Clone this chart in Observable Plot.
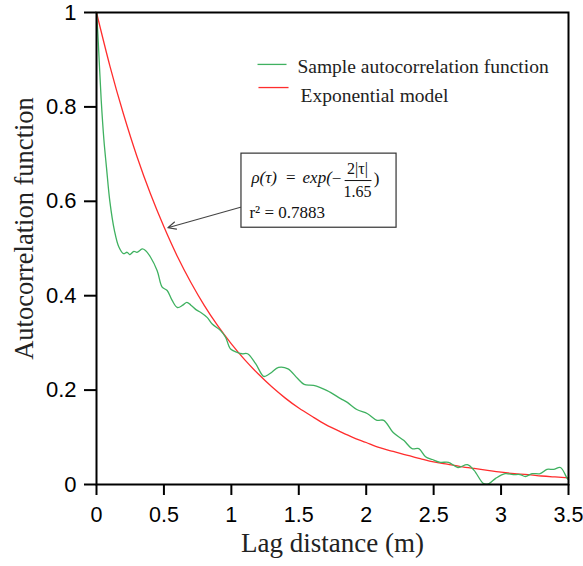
<!DOCTYPE html>
<html><head><meta charset="utf-8">
<script src="https://cdn.jsdelivr.net/npm/d3@7"></script>
<script src="https://cdn.jsdelivr.net/npm/@observablehq/plot@0.6"></script>
<style>body{margin:0;background:#fff}</style>
</head><body><div id="chart"></div>
<script>
// Sample autocorrelation function
const sampleLag = [0,0.01,0.035,0.055,0.074,0.099,0.133,0.166,0.2,0.227,0.247,0.277,0.30,0.339,0.363,0.40,0.45,0.487,0.524,0.561,0.6,0.64,0.67,0.7,0.74,0.771,0.82,0.858,0.92,0.957,0.994,1.043,1.08,1.12,1.18,1.24,1.27,1.30,1.35,1.42,1.49,1.54,1.61,1.71,1.81,1.86,1.93,2.01,2.08,2.13,2.20,2.28,2.34,2.39,2.44,2.49,2.55,2.61,2.68,2.75,2.80,2.87,2.91,2.96,3.03,3.09,3.14,3.18,3.23,3.29,3.34,3.39,3.44,3.49,3.5];
const sampleAcf = [1,0.955,0.814,0.73,0.672,0.60,0.538,0.503,0.489,0.492,0.487,0.494,0.492,0.499,0.496,0.482,0.453,0.418,0.411,0.39,0.375,0.38,0.386,0.38,0.37,0.365,0.354,0.34,0.326,0.312,0.287,0.28,0.277,0.277,0.256,0.229,0.232,0.238,0.248,0.245,0.225,0.212,0.21,0.199,0.182,0.174,0.159,0.15,0.136,0.136,0.11,0.093,0.076,0.076,0.059,0.053,0.047,0.047,0.036,0.042,0.03,0.002,0.002,0.013,0.023,0.021,0.021,0.017,0.023,0.023,0.032,0.032,0.036,0.013,0.01];
// Exponential model curve
const modelLag = [0,0.1,0.2,0.3,0.4,0.5,0.6,0.7,0.8,0.9,1.0,1.1,1.2,1.3,1.4,1.5,1.6,1.7,1.8,1.9,2.0,2.1,2.2,2.3,2.4,2.5,2.6,2.7,2.8,2.9,3.0,3.1,3.2,3.3,3.4,3.5];
const modelAcf = [1,0.886,0.785,0.695,0.616,0.546,0.483,0.428,0.379,0.336,0.298,0.264,0.234,0.207,0.183,0.162,0.144,0.127,0.113,0.100,0.089,0.078,0.070,0.062,0.055,0.048,0.043,0.038,0.034,0.030,0.026,0.023,0.021,0.018,0.016,0.014];
const xTicks = [0,0.5,1,1.5,2,2.5,3,3.5];
const yTicks = [0,0.2,0.4,0.6,0.8,1];
const seriesNames = ["Sample autocorrelation function","Exponential model"];
const xTitle = "Lag distance (m)";
const yTitle = "Autocorrelation function";

const sample = sampleLag.map((x,i)=>({x, y: sampleAcf[i]}));
const model = modelLag.map((x,i)=>({x, y: modelAcf[i]}));

const GREEN = "#3fb160", RED = "#ff2d2d";
const serif = "Liberation Serif, Times New Roman, serif";

// annotation layout (data coordinates)
const legendItems = [
  {name: seriesNames[0], color: GREEN, x1: 1.194, x2: 1.409, y: 0.890, tx: 1.490, ty: 0.886},
  {name: seriesNames[1], color: RED, x1: 1.201, x2: 1.424, y: 0.841, tx: 1.513, ty: 0.824}
];
const box = [{x1: 1.075, x2: 2.225, y1: 0.544, y2: 0.701}];
const arrow = [{x1: 1.068, y1: 0.5875, x2: 0.529, y2: 0.544}];
const formula = [
  {t: "ρ(τ)", x: 1.149, y: 0.650, style: "italic", anchor: "start", size: 17},
  {t: "=", x: 1.405, y: 0.650, style: "normal", anchor: "start", size: 17},
  {t: "exp(", x: 1.528, y: 0.650, style: "italic", anchor: "start", size: 17},
  {t: "−", x: 1.745, y: 0.648, style: "normal", anchor: "start", size: 17},
  {t: "2|τ|", x: 1.935, y: 0.668, style: "normal", anchor: "middle", size: 16},
  {t: "1.65", x: 1.935, y: 0.619, style: "normal", anchor: "middle", size: 16},
  {t: ")", x: 2.055, y: 0.648, style: "normal", anchor: "start", size: 17},
  {t: "r² = 0.7883", x: 1.134, y: 0.576, style: "normal", anchor: "start", size: 17}
];
const fracLine = [{x1: 1.84, x2: 2.039, y: 0.644}];

const chart = Plot.plot({
  width: 583, height: 566,
  marginLeft: 96, marginRight: 15, marginTop: 12, marginBottom: 82,
  x: {domain: [0, 3.5]},
  y: {domain: [0, 1]},
  style: {fontFamily: "Liberation Sans, Arial, sans-serif", color: "black", background: "white", overflow: "visible"},
  marks: [
    Plot.axisX({ticks: xTicks, tickSize: 11, tickPadding: 11, label: null, fontSize: 21.5, strokeWidth: 2, tickFormat: d => String(d)}),
    Plot.axisY({ticks: yTicks, tickSize: 12, tickPadding: 8, label: null, fontSize: 22, strokeWidth: 2, tickFormat: d => String(d)}),
    Plot.line(model, {x: "x", y: "y", stroke: RED, strokeWidth: 1.3, curve: "natural"}),
    Plot.line(sample, {x: "x", y: "y", stroke: GREEN, strokeWidth: 1.3, curve: "catmull-rom"}),
    Plot.frame({stroke: "black", strokeWidth: 2}),
    // legend
    Plot.link(legendItems, {x1: "x1", x2: "x2", y1: "y", y2: "y", stroke: "color", strokeWidth: 1.3}),
    Plot.text(legendItems, {x: "tx", y: "ty", text: "name", textAnchor: "start", fontSize: 19.5, fontFamily: serif, fill: "#222"}),
    // annotation box + arrow
    Plot.arrow(arrow, {x1: "x1", y1: "y1", x2: "x2", y2: "y2", stroke: "#444", strokeWidth: 1.1, headLength: 12, headAngle: 50}),
    Plot.rect(box, {x1: "x1", x2: "x2", y1: "y1", y2: "y2", fill: "white", stroke: "#333", strokeWidth: 1.2}),
    Plot.link(fracLine, {x1: "x1", x2: "x2", y1: "y", y2: "y", stroke: "#111", strokeWidth: 1}),
    ...formula.map(f => Plot.text([f], {x: "x", y: "y", text: "t", textAnchor: f.anchor, lineAnchor: "middle", fontSize: f.size, fontFamily: serif, fontStyle: f.style, fill: "#111"})),
    // axis titles
    Plot.text([xTitle], {frameAnchor: "bottom", dy: 59, lineAnchor: "middle", textAnchor: "middle", fontSize: 27, fontFamily: serif, fill: "#222"}),
    Plot.text([yTitle], {frameAnchor: "left", dx: -71.5, dy: -20, rotate: -90, lineAnchor: "middle", textAnchor: "middle", fontSize: 26.5, fontFamily: serif, fill: "#222"})
  ]
});
document.getElementById("chart").appendChild(chart);
</script>
</body></html>
